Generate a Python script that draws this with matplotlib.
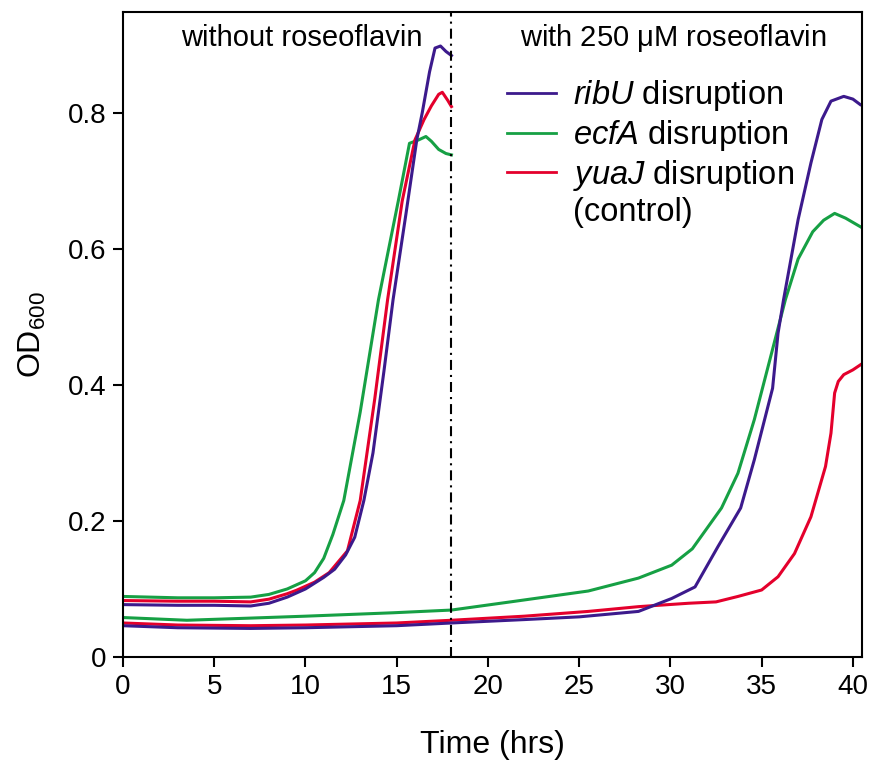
import matplotlib
matplotlib.use("Agg")
import matplotlib.pyplot as plt
from matplotlib.lines import Line2D

plt.rcParams["font.family"] = ["Liberation Sans", "DejaVu Sans"]
plt.rcParams["mathtext.fontset"] = "custom"
plt.rcParams["mathtext.rm"] = "Liberation Sans"
plt.rcParams["mathtext.it"] = "Liberation Sans:italic"

# growth without roseoflavin (0-18 h)
t_ribU_no = [0, 3, 5, 7, 8, 9, 10, 11, 11.6, 12.2, 12.7, 13.2, 13.7, 14.3, 14.8,
             15.5, 16.1, 16.4, 16.8, 17.1, 17.4, 17.7, 18.0]
ribU_no = [0.077, 0.076, 0.076, 0.075, 0.079, 0.088, 0.100, 0.117, 0.129, 0.150, 0.176,
           0.23, 0.30, 0.42, 0.525, 0.65, 0.76, 0.80, 0.86, 0.895, 0.898, 0.89, 0.884]

t_ecfA_no = [0, 3, 5, 7, 8, 9, 10, 10.5, 11, 11.5, 12.1, 13.0, 14.0, 15.1, 15.7,
             16.2, 16.6, 16.9, 17.3, 17.7, 18.0]
ecfA_no = [0.089, 0.087, 0.087, 0.088, 0.092, 0.100, 0.112, 0.124, 0.145, 0.18, 0.23,
           0.36, 0.525, 0.672, 0.755, 0.76, 0.765, 0.758, 0.746, 0.74, 0.738]

t_yuaJ_no = [0, 3, 5, 7, 8, 9, 9.5, 10.5, 11.3, 12.3, 13.0, 13.8, 14.5, 15.3, 16.0,
             16.5, 16.9, 17.3, 17.5, 17.8, 18.0]
yuaJ_no = [0.083, 0.082, 0.082, 0.081, 0.085, 0.093, 0.098, 0.110, 0.124, 0.156, 0.23,
           0.38, 0.525, 0.67, 0.76, 0.79, 0.81, 0.827, 0.83, 0.818, 0.809]

# growth with 250 uM roseoflavin (0-40.5 h)
t_ribU_ros = [0, 3, 7, 10, 15, 18, 22, 25, 28.25, 30.07, 31.35, 32.6, 33.85, 34.6,
              35.6, 35.9, 36.2, 37.0, 37.7, 38.3, 38.8, 39.5, 40.0, 40.4]
ribU_ros = [0.046, 0.043, 0.042, 0.043, 0.046, 0.050, 0.055, 0.059, 0.067, 0.086, 0.103,
            0.162, 0.219, 0.29, 0.395, 0.476, 0.525, 0.643, 0.726, 0.79, 0.817, 0.824,
            0.82, 0.812]

t_ecfA_ros = [0, 3.5, 6.8, 10, 14.8, 18, 21.5, 25.5, 28.25, 30.07, 31.2, 32.8, 33.7,
              34.6, 35.5, 36.3, 37.0, 37.8, 38.4, 39.0, 39.6, 40.5]
ecfA_ros = [0.058, 0.054, 0.057, 0.060, 0.065, 0.069, 0.082, 0.097, 0.116, 0.135, 0.159,
            0.219, 0.27, 0.349, 0.442, 0.525, 0.585, 0.625, 0.642, 0.652, 0.645, 0.631]

t_yuaJ_ros = [0, 3, 7, 10, 15, 18, 22, 25.5, 28.25, 31.0, 32.5, 33.7, 35.0, 35.9, 36.8,
              37.7, 38.5, 38.8, 39.0, 39.2, 39.5, 40.0, 40.5]
yuaJ_ros = [0.050, 0.047, 0.046, 0.047, 0.050, 0.054, 0.060, 0.067, 0.074, 0.079, 0.081,
            0.089, 0.0985, 0.118, 0.152, 0.206, 0.28, 0.329, 0.388, 0.405, 0.415, 0.422,
            0.431]

purple = "#3c1a8c"
green = "#16a044"
red = "#e4002c"

fig = plt.figure(figsize=(8.71, 7.64), dpi=100)
ax = fig.add_axes([123 / 871, 1 - 657 / 764, 739 / 871, 645 / 764])

lw = 2.2
ax.plot(t_ecfA_no, ecfA_no, color=green, lw=lw)
ax.plot(t_yuaJ_no, yuaJ_no, color=red, lw=lw)
ax.plot(t_ribU_no, ribU_no, color=purple, lw=lw)
ax.plot(t_ecfA_ros, ecfA_ros, color=green, lw=lw)
ax.plot(t_yuaJ_ros, yuaJ_ros, color=red, lw=lw)
ax.plot(t_ribU_ros, ribU_ros, color=purple, lw=lw)

ax.axvline(18, color="black", lw=1.5, linestyle=(0, (4.8, 2.4, 1, 2.4)))

ax.set_xlim(0, 40.5)
ax.set_ylim(0, 0.948)
ax.set_xticks([0, 5, 10, 15, 20, 25, 30, 35, 40])
ax.set_yticks([0, 0.2, 0.4, 0.6, 0.8])
ax.set_yticklabels(["0", "0.2", "0.4", "0.6", "0.8"])
ax.tick_params(direction="out", length=7, width=1.5, labelsize=20, pad=5)
for s in ax.spines.values():
    s.set_linewidth(1.5)

ax.set_xlabel("Time (hrs)", fontsize=23, labelpad=22)
ax.set_ylabel(r"OD$_{600}$", fontsize=23, labelpad=14)

ax.text(9.8, 0.91, "without roseoflavin", fontsize=21, ha="center", va="center")
ax.text(30.15, 0.91, r"with 250 $\mathrm{\mu}$M roseoflavin", fontsize=21,
        ha="center", va="center")

handles = [
    Line2D([], [], color=purple, lw=2),
    Line2D([], [], color=green, lw=2),
    Line2D([], [], color=red, lw=2),
    Line2D([], [], color="none"),
]
labels = [
    r"$\mathit{ribU}$ disruption",
    r"$\mathit{ecfA}$ disruption",
    r"$\mathit{yuaJ}$ disruption",
    "(control)",
]
ax.legend(handles, labels, loc="upper left", bbox_to_anchor=(0.52, 0.897),
          frameon=False, fontsize=23.5, handlelength=1.5, handletextpad=0.5,
          labelspacing=0.14, borderpad=0, borderaxespad=0)

fig.savefig("out.png", dpi=100)
